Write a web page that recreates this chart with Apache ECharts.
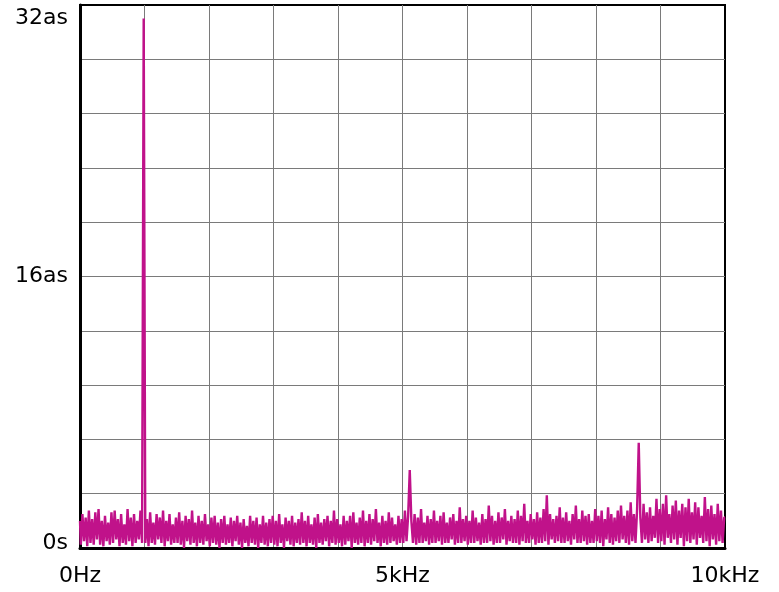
<!DOCTYPE html>
<html>
<head>
<meta charset="utf-8">
<script src="https://cdn.jsdelivr.net/npm/echarts@6/dist/echarts.min.js"></script>
<style>
  html, body { margin: 0; padding: 0; background: #fff; }
  #chart { width: 779px; height: 592px; }
</style>
</head>
<body>
<div id="chart"></div>
<script>
// spectrum: 401 bins from 0 Hz to 10 kHz (25 Hz apart), values in attoseconds
const freqMax = 10000;
const noise = [
  1.6,0.2,2.0,0.4,1.8,0.1,2.2,0.3,1.7,0.2,2.1,0.5,2.3,0.2,1.6,0.1,1.9,0.4,1.5,0.2,
  2.1,0.3,2.2,0.5,1.7,0.1,2.0,0.3,1.4,0.2,2.3,0.4,1.8,0.1,2.0,0.3,1.6,0.5,2.2,0.3,
  1.9,0.3,1.7,0.1,2.1,0.3,1.5,0.2,2.0,0.5,1.8,0.3,2.2,0.1,1.6,0.4,2.0,0.2,1.4,0.3,
  1.8,0.3,2.1,0.2,1.6,0.0,1.9,0.4,1.7,0.2,2.2,0.3,1.5,0.1,1.9,0.3,1.6,0.2,2.0,0.4,
  1.4,0.1,1.8,0.3,1.9,0.2,1.5,0.0,1.7,0.3,1.9,0.2,1.4,0.3,1.8,0.1,1.6,0.4,1.9,0.2,
  1.5,0.0,1.7,0.3,1.3,0.1,1.9,0.3,1.6,0.2,1.8,0.0,1.4,0.3,1.9,0.2,1.5,0.1,1.7,0.3,
  1.9,0.2,1.6,0.1,2.0,0.3,1.4,0.0,1.8,0.4,1.6,0.2,1.9,0.1,1.5,0.3,1.7,0.2,2.1,0.3,
  1.6,0.1,1.9,0.3,1.4,0.2,1.8,0.0,2.0,0.3,1.5,0.2,1.7,0.4,1.9,0.1,1.6,0.3,2.2,0.2,
  1.7,0.3,1.4,0.1,1.9,0.2,1.6,0.4,1.9,0.0,2.1,0.3,1.5,0.2,1.8,0.3,2.2,0.1,1.6,0.3,
  2.0,0.2,1.7,0.4,2.3,0.3,1.5,0.1,1.9,0.3,1.6,0.2,2.1,0.3,1.8,0.4,1.4,0.2,1.9,0.3,
  1.7,0.3,2.2,0.4,1.9,0.5,1.6,0.3,2.0,0.2,1.8,0.3,2.3,0.3,1.5,0.4,1.9,0.2,1.7,0.3,
  2.2,0.3,1.6,0.4,1.9,0.2,2.1,0.3,1.5,0.3,1.8,0.5,2.0,0.2,1.6,0.3,2.4,0.3,1.7,0.4,
  1.9,0.2,1.6,0.3,2.2,0.3,1.8,0.4,1.5,0.2,2.0,0.3,1.7,0.3,2.5,0.4,1.9,0.2,1.6,0.3,
  2.1,0.3,1.8,0.5,2.3,0.2,1.6,0.4,1.9,0.3,1.7,0.3,2.2,0.2,1.9,0.4,2.6,0.3,1.6,0.3,
  2.0,0.5,1.7,0.2,2.1,0.3,1.8,0.3,2.3,0.4,1.6,0.2,2.0,0.5,1.7,0.3,1.9,0.4,2.4,0.3,
  1.8,0.3,2.1,0.4,1.6,0.2,2.0,0.5,2.5,0.3,1.7,0.3,2.2,0.4,1.9,0.2,2.0,0.3,1.6,0.3,
  2.3,0.4,1.9,0.3,2.2,0.1,1.7,0.5,2.4,0.3,2.0,0.2,1.8,0.4,2.2,0.3,2.5,0.5,1.9,0.3,
  2.2,0.2,2.7,0.4,2.0,0.3,2.3,0.6,1.8,0.3,2.6,0.5,2.1,0.3,2.4,0.4,1.9,0.6,2.9,0.3,
  2.3,0.4,2.6,0.2,3.1,0.6,2.0,0.3,2.5,0.5,2.8,0.2,2.2,0.6,2.6,0.1,2.4,0.4,2.9,0.3,
  2.1,0.5,2.7,0.2,2.4,0.6,1.9,0.3,3.0,0.4,2.3,0.1,2.5,0.5,2.0,0.2,2.6,0.4,2.2,0.3,
  1.8
];
// discrete tones sticking out of the noise floor
const spikeFreqs = [1000, 5125, 7250, 8675];
const spikeVals = [31.2, 4.6, 3.1, 6.2];

const xLabels = { 0: '0Hz', 5000: '5kHz', 10000: '10kHz' };
const yLabels = { 0: '0s', 16: '16as', 32: '32as' };

const step = freqMax / (noise.length - 1);
const values = noise.slice();
spikeFreqs.forEach((f, i) => { values[Math.round(f / step)] = spikeVals[i]; });
const seriesData = values.map((v, i) => [i * step, v]);

const chart = echarts.init(document.getElementById('chart'));
chart.setOption({
  animation: false,
  backgroundColor: '#fff',
  grid: {
    left: 80, right: 54, top: 5, bottom: 44,
    show: true,
    borderColor: '#000',
    borderWidth: 2
  },
  xAxis: {
    type: 'value',
    min: 0, max: 10000, interval: 1000,
    axisLine: { show: true, lineStyle: { color: '#000', width: 3 } },
    axisTick: { show: false },
    splitLine: { show: true, showMinLine: false, showMaxLine: false, lineStyle: { color: '#7a7a7a', width: 1 } },
    axisLabel: {
      margin: 17,
      fontFamily: 'DejaVu Sans',
      fontSize: 22,
      color: '#000',
      formatter: v => xLabels[Math.round(v)] || ''
    }
  },
  yAxis: {
    type: 'value',
    min: 0, max: 32, interval: 3.2,
    axisLine: { show: true, lineStyle: { color: '#000', width: 3 } },
    axisTick: { show: false },
    splitLine: { show: true, showMinLine: false, showMaxLine: false, lineStyle: { color: '#7a7a7a', width: 1 } },
    axisLabel: {
      margin: 12,
      fontFamily: 'DejaVu Sans',
      fontSize: 22,
      color: '#000',
      formatter: v => {
        const r = Math.round(v * 10) / 10;
        if (r === 32) return '{t|32as}';
        if (r === 0) return '{b|0s}';
        return yLabels[r] || '';
      },
      rich: {
        t: { fontFamily: 'DejaVu Sans', fontSize: 22, color: '#000', padding: [26, 0, 0, 0] },
        b: { fontFamily: 'DejaVu Sans', fontSize: 22, color: '#000', padding: [0, 0, 10, 0] }
      }
    }
  },
  series: [{
    type: 'line',
    data: seriesData,
    step: 'middle',
    showSymbol: false,
    symbol: 'none',
    lineStyle: { color: '#c0128a', width: 2.4 },
    z: 3
  }]
});
</script>
</body>
</html>
